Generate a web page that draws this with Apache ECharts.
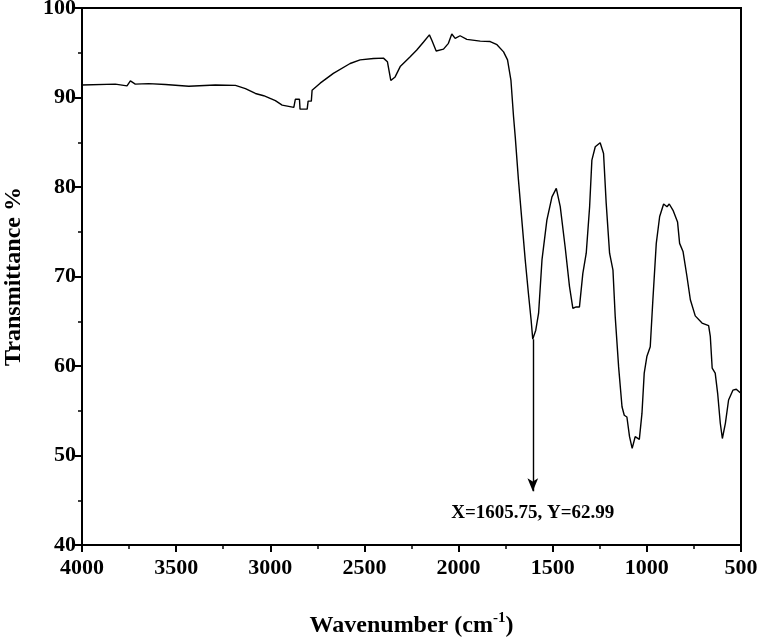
<!DOCTYPE html>
<html>
<head>
<meta charset="utf-8">
<title>FTIR</title>
<script src="https://cdn.jsdelivr.net/npm/echarts@6/dist/echarts.min.js"></script>
<style>
  html, body { margin: 0; padding: 0; background: #fff; }
  #main { width: 757px; height: 638px; }
</style>
</head>
<body>
<div id="main"></div>
<script>
// 读图得到的数据（波数 cm-1 / 透过率 %）
var wavenumber = [4000, 3823, 3761, 3743, 3717, 3646, 3557, 3433, 3292, 3185, 3132, 3079, 3035, 2973, 2937, 2875,
  2867, 2845, 2842, 2804, 2799, 2782, 2778, 2735, 2665, 2576, 2523, 2452, 2399, 2378, 2360, 2337, 2310, 2257,
  2222, 2186, 2155, 2142, 2119, 2080, 2054, 2036, 2018, 1992, 1956, 1885, 1832, 1796, 1761, 1740, 1722, 1708,
  1699, 1682, 1664, 1646, 1629, 1615, 1606, 1590, 1575, 1557, 1531, 1504, 1481, 1460, 1434, 1411, 1393, 1375,
  1358, 1340, 1322, 1304, 1292, 1274, 1248, 1230, 1216, 1198, 1180, 1168, 1150, 1132, 1120, 1106, 1092, 1078,
  1062, 1053, 1040, 1026, 1014, 1000, 982, 968, 950, 932, 911, 893, 881, 861, 837, 826, 808, 787, 769, 743,
  707, 672, 663, 653, 637, 624, 610, 599, 583, 566, 543, 525, 504];
var transmittance = [91.4, 91.5, 91.3, 91.85, 91.5, 91.55, 91.45, 91.25, 91.4, 91.35, 91.0, 90.45, 90.2, 89.65, 89.15, 88.9,
  89.8, 89.8, 88.7, 88.7, 89.6, 89.6, 90.8, 91.6, 92.7, 93.8, 94.2, 94.35, 94.4, 94.0, 91.9, 92.3, 93.45, 94.55,
  95.3, 96.2, 97.0, 96.4, 95.2, 95.4, 96.05, 97.1, 96.6, 96.9, 96.5, 96.3, 96.25, 95.9, 95.1, 94.2, 91.95, 87.85,
  85.6, 80.8, 76.3, 71.85, 68.1, 65.2, 63.0, 64.0, 65.9, 71.85, 76.3, 78.9, 79.85, 77.8, 73.3, 68.9, 66.45, 66.6,
  66.6, 70.35, 72.6, 77.8, 83.0, 84.5, 84.95, 83.75, 78.2, 72.6, 70.7, 65.5, 59.9, 55.45, 54.5, 54.3, 52.1, 50.8,
  52.1, 52.3, 51.8, 54.7, 59.2, 61.05, 62.15, 67.4, 73.7, 76.7, 78.1, 77.8, 78.1, 77.4, 76.1, 73.7, 72.8, 70.0,
  67.4, 65.6, 64.8, 64.5, 63.3, 59.75, 59.2, 56.95, 53.6, 51.9, 53.6, 56.2, 57.3, 57.4, 57.0];

// 标注
var peakX = 1605.75;
var peakY = 62.99;
var arrowEndY = 46;

var FONT = '"Liberation Serif", "Times New Roman", serif';

var seriesData = [];
for (var i = 0; i < wavenumber.length; i++) {
  seriesData.push([wavenumber[i], transmittance[i]]);
}

var chart = echarts.init(document.getElementById('main'), null, { renderer: 'canvas' });

var option = {
  backgroundColor: '#ffffff',
  animation: false,
  grid: {
    left: 82,
    right: 16,
    top: 8,
    bottom: 93,
    containLabel: false,
    outerBoundsMode: 'none',
    show: true,
    borderColor: '#000',
    borderWidth: 2,
    backgroundColor: 'transparent'
  },
  xAxis: {
    type: 'value',
    inverse: true,
    min: 500,
    max: 4000,
    interval: 500,
    name: 'Wavenumber (cm{sup|-1})',
    nameLocation: 'middle',
    nameGap: 66,
    nameTextStyle: {
      fontFamily: FONT,
      fontWeight: 'bold',
      fontSize: 24,
      color: '#000',
      rich: {
        sup: { fontFamily: FONT, fontWeight: 'bold', fontSize: 15, color: '#000', verticalAlign: 'top', padding: [0, 0, 14, 0] }
      }
    },
    axisLine: { lineStyle: { color: '#000', width: 2 } },
    axisTick: { inside: false, length: 7, lineStyle: { color: '#000', width: 2 } },
    minorTick: { show: true, splitNumber: 2, length: 4, lineStyle: { color: '#000', width: 1.5 } },
    splitLine: { show: false },
    axisLabel: {
      margin: 12,
      fontFamily: FONT,
      fontWeight: 'bold',
      fontSize: 22,
      color: '#000',
      formatter: function (v) { return String(v); }
    }
  },
  yAxis: {
    type: 'value',
    min: 40,
    max: 100,
    interval: 10,
    name: 'Transmittance %',
    nameLocation: 'middle',
    nameGap: 56,
    nameTextStyle: {
      fontFamily: FONT,
      fontWeight: 'bold',
      fontSize: 24,
      color: '#000'
    },
    axisLine: { lineStyle: { color: '#000', width: 2 } },
    axisTick: { inside: false, length: 7, lineStyle: { color: '#000', width: 2 } },
    minorTick: { show: true, splitNumber: 2, length: 4, lineStyle: { color: '#000', width: 1.5 } },
    splitLine: { show: false },
    axisLabel: {
      margin: 6,
      fontFamily: FONT,
      fontWeight: 'bold',
      fontSize: 22,
      color: '#000',
      formatter: function (v) { return String(v); }
    }
  },
  series: [
    {
      type: 'line',
      data: seriesData,
      showSymbol: false,
      smooth: false,
      lineStyle: { color: '#000', width: 1.4 },
      markLine: {
        silent: true,
        symbol: ['none', 'arrow'],
        symbolSize: [8, 13],
        lineStyle: { color: '#000', width: 1.4, type: 'solid' },
        label: {
          show: true,
          position: 'end',
          distance: 12,
          formatter: 'X=' + peakX + ', Y=' + peakY,
          fontFamily: FONT,
          fontWeight: 'bold',
          fontSize: 19,
          color: '#000'
        },
        data: [
          [{ coord: [peakX, peakY] }, { coord: [peakX, arrowEndY] }]
        ]
      }
    }
  ]
};

chart.setOption(option);
</script>
</body>
</html>
